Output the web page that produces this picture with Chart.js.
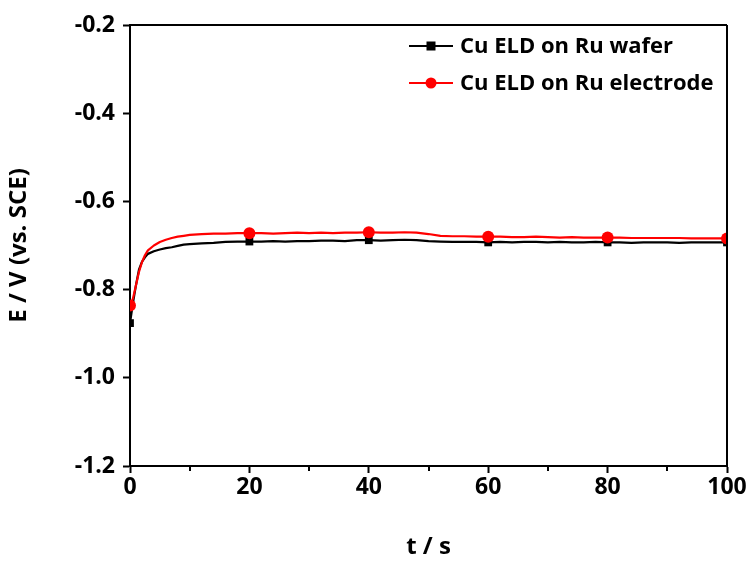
<!DOCTYPE html>
<html>
<head>
<meta charset="utf-8">
<script src="https://cdn.jsdelivr.net/npm/chart.js@4/dist/chart.umd.min.js"></script>
<style>
  html, body { margin: 0; padding: 0; background: #ffffff; }
  #wrap { width: 752px; height: 563px; }
</style>
</head>
<body>
<div id="wrap"><canvas id="c" width="752" height="563"></canvas></div>
<script>
// Open-circuit potential transients recorded during Cu electroless deposition
const seriesNames = ['Cu ELD on Ru wafer', 'Cu ELD on Ru electrode'];

const timeS = [0, 0.5, 1, 1.5, 2, 2.5, 3, 4, 5, 6, 7, 8, 9, 10, 12, 14, 16, 18, 20, 22, 24, 26, 28, 30,
  32, 34, 36, 38, 40, 42, 44, 46, 48, 50, 52, 54, 56, 58, 60, 62, 64, 66, 68, 70, 72, 74, 76, 78, 80,
  82, 84, 86, 88, 90, 92, 94, 96, 98, 100];

const waferE = [-0.876, -0.830, -0.790, -0.755, -0.737, -0.727, -0.719, -0.713, -0.709, -0.706, -0.704,
  -0.701, -0.698, -0.697, -0.695, -0.694, -0.692, -0.691, -0.691, -0.691, -0.690, -0.691, -0.690, -0.690,
  -0.689, -0.689, -0.690, -0.688, -0.688, -0.689, -0.688, -0.687, -0.688, -0.690, -0.691, -0.692, -0.692,
  -0.692, -0.693, -0.692, -0.693, -0.692, -0.692, -0.693, -0.692, -0.693, -0.693, -0.692, -0.693,
  -0.693, -0.694, -0.693, -0.693, -0.693, -0.694, -0.693, -0.693, -0.693, -0.693];

const electrodeE = [-0.836, -0.820, -0.790, -0.760, -0.738, -0.722, -0.711, -0.700, -0.692, -0.687, -0.683,
  -0.680, -0.678, -0.676, -0.674, -0.673, -0.673, -0.672, -0.672, -0.672, -0.673, -0.672, -0.671, -0.672,
  -0.671, -0.672, -0.671, -0.671, -0.670, -0.671, -0.671, -0.670, -0.671, -0.674, -0.678, -0.679, -0.679,
  -0.680, -0.680, -0.680, -0.681, -0.681, -0.680, -0.681, -0.682, -0.681, -0.682, -0.682, -0.682,
  -0.682, -0.683, -0.683, -0.683, -0.683, -0.683, -0.684, -0.684, -0.684, -0.684];

// symbols are placed every 20 s
const markerTimes = [0, 20, 40, 60, 80, 100];

const xTicks = [0, 20, 40, 60, 80, 100];
const yTicks = [-1.2, -1.0, -0.8, -0.6, -0.4, -0.2];

const FONT = '"Open Sans", "DejaVu Sans", sans-serif';

function toPoints(ys) {
  return timeS.map((t, i) => ({ x: t, y: ys[i] }));
}
function markerRadius(r) {
  return ctx => (ctx.raw && markerTimes.includes(ctx.raw.x) ? r : 0);
}

// box frame, minor ticks and legend
const framePlugin = {
  id: 'frame',
  afterDraw(chart) {
    const { ctx, chartArea: a, scales } = chart;
    ctx.save();
    ctx.strokeStyle = '#000';
    ctx.lineWidth = 2;
    ctx.beginPath();
    ctx.moveTo(a.left, a.top); ctx.lineTo(a.right, a.top);
    ctx.moveTo(a.right, a.top); ctx.lineTo(a.right, a.bottom);
    ctx.stroke();
    // minor ticks
    ctx.beginPath();
    for (let v = 10; v < 100; v += 20) {
      const px = Math.round(scales.x.getPixelForValue(v));
      ctx.moveTo(px, a.bottom); ctx.lineTo(px, a.bottom + 5);
    }
    for (let v = -1.1; v > -0.2; v += 0.2) {
      const py = Math.round(scales.y.getPixelForValue(v));
      ctx.moveTo(a.left, py); ctx.lineTo(a.left - 5, py);
    }
    ctx.stroke();
    // legend
    const entries = [
      { color: '#000000', shape: 'rect' },
      { color: '#ff0000', shape: 'circle' }
    ];
    const lx0 = a.left + 279, lx1 = a.left + 323, ty0 = a.top + 21, dy = 37;
    ctx.font = 'bold 22px ' + FONT;
    ctx.textBaseline = 'middle';
    ctx.textAlign = 'left';
    entries.forEach((e, i) => {
      const y = ty0 + i * dy;
      ctx.strokeStyle = e.color;
      ctx.fillStyle = e.color;
      ctx.lineWidth = 2;
      ctx.beginPath();
      ctx.moveTo(lx0, y); ctx.lineTo(lx1, y);
      ctx.stroke();
      const cx = (lx0 + lx1) / 2;
      if (e.shape === 'rect') {
        ctx.fillRect(cx - 4.5, y - 4.5, 9, 9);
      } else {
        ctx.beginPath();
        ctx.arc(cx, y, 5.5, 0, Math.PI * 2);
        ctx.fill();
      }
      ctx.fillStyle = '#000';
      ctx.fillText(seriesNames[i], lx1 + 7, y + 1);
    });
    ctx.restore();
  }
};

new Chart(document.getElementById('c'), {
  type: 'line',
  data: {
    datasets: [
      {
        label: seriesNames[1],
        data: toPoints(electrodeE),
        borderColor: '#ff0000',
        backgroundColor: '#ff0000',
        borderWidth: 2.2,
        pointStyle: 'circle',
        pointRadius: markerRadius(6),
        pointBorderWidth: 0,
        tension: 0,
        order: 0
      },
      {
        label: seriesNames[0],
        data: toPoints(waferE),
        borderColor: '#000000',
        backgroundColor: '#000000',
        borderWidth: 2.2,
        pointStyle: 'rect',
        pointRadius: markerRadius(5.5),
        pointBorderWidth: 0,
        tension: 0,
        order: 1
      }
    ]
  },
  options: {
    responsive: false,
    animation: false,
    events: [],
    layout: { padding: { top: 25, right: 25, left: 0, bottom: 0 } },
    plugins: { legend: { display: false }, tooltip: { enabled: false } },
    elements: { line: { borderCapStyle: 'round', borderJoinStyle: 'round' } },
    scales: {
      x: {
        type: 'linear',
        min: 0, max: 100,
        afterBuildTicks: s => { s.ticks = xTicks.map(v => ({ value: v })); },
        afterFit: s => { s.height = 97; },
        border: { color: '#000', width: 2 },
        grid: { drawOnChartArea: false, drawTicks: true, tickLength: 7, tickWidth: 2, tickColor: '#000' },
        ticks: {
          color: '#000', padding: 1,
          font: { family: FONT, size: 23, weight: 'bold' },
          callback: v => String(v)
        },
        title: {
          display: true, text: 't / s', color: '#000',
          font: { family: FONT, size: 24, weight: 'bold' },
          padding: { top: 0, bottom: 1 }
        }
      },
      y: {
        type: 'linear',
        min: -1.2, max: -0.2,
        afterBuildTicks: s => { s.ticks = yTicks.map(v => ({ value: v })); },
        afterFit: s => { s.width = 130; },
        border: { color: '#000', width: 2 },
        grid: { drawOnChartArea: false, drawTicks: true, tickLength: 7, tickWidth: 2, tickColor: '#000' },
        ticks: {
          color: '#000', padding: 8,
          font: { family: FONT, size: 23, weight: 'bold' },
          callback: v => v.toFixed(1)
        },
        title: {
          display: true, text: 'E / V (vs. SCE)', color: '#000',
          font: { family: FONT, size: 24, weight: 'bold' },
          padding: { top: 5, bottom: 0 }
        }
      }
    }
  },
  plugins: [framePlugin]
});
</script>
</body>
</html>
